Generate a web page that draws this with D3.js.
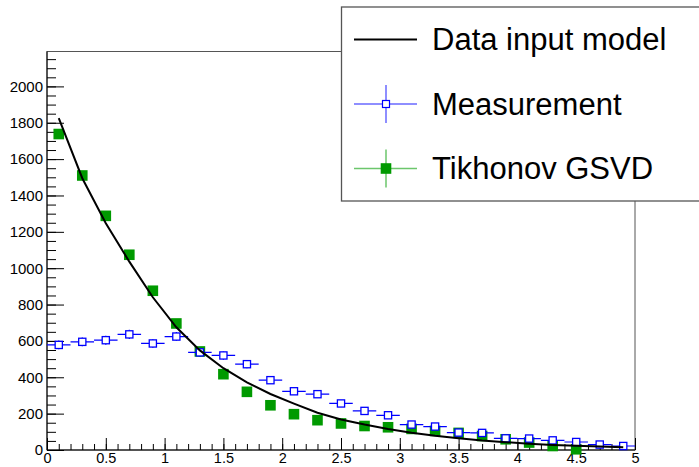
<!DOCTYPE html>
<html>
<head>
<meta charset="utf-8">
<script src="https://cdn.jsdelivr.net/npm/d3@7"></script>
<style>
  body { margin: 0; background: #fff; }
  svg { display: block; font-family: "Liberation Sans", Arial, sans-serif; }
</style>
</head>
<body>
<div class="unfoldChart"></div>
<script>
// bin centres (25 bins of width 0.2 on [0,5])
const binCenters = [0.1, 0.3, 0.5, 0.7, 0.9, 1.1, 1.3, 1.5, 1.7, 1.9, 2.1, 2.3, 2.5,
  2.7, 2.9, 3.1, 3.3, 3.5, 3.7, 3.9, 4.1, 4.3, 4.5, 4.7, 4.9]
const binHalfWidth = 0.1

const modelValues = [1826, 1495, 1247, 1036, 840, 675, 548, 450, 372, 308, 255, 205, 168,
  140, 115, 95, 78, 64, 52, 43, 35, 28, 23, 19, 15]
const measurementValues = [578, 595, 604, 636, 586, 624, 537, 520, 472, 384, 323, 307, 256,
  215, 191, 140, 129, 96, 94, 64, 63, 53, 44, 30, 22]
const measurementErrors = [24, 24, 25, 25, 24, 25, 23, 23, 22, 20, 18, 18, 16,
  15, 14, 12, 11, 10, 10, 8, 8, 7, 7, 5, 5]
const tikhonovValues = [1738, 1510, 1288, 1074, 876, 696, 542, 417, 320, 246, 197, 164, 146,
  132, 125, 116, 105, 94, 77, 59, 41, 22, 4, -12, -25]

const xMajorTicks = [0, 0.5, 1, 1.5, 2, 2.5, 3, 3.5, 4, 4.5, 5]
const yMajorTicks = [0, 200, 400, 600, 800, 1000, 1200, 1400, 1600, 1800, 2000]
const legendLabels = ["Data input model", "Measurement", "Tikhonov GSVD"]

function drawUnfoldChart() {
  const width = 699
  const height = 467
  const left = 47, right = 635, top = 51.5, bottom = 450

  const x = d3.scaleLinear().domain([0, 5]).range([left, right])
  const y = d3.scaleLinear().domain([0, 2192]).range([bottom, top])

  const blue = "#0000ff"
  const green = "#009a00"

  const svg = d3.select(".unfoldChart").append("svg")
    .attr("width", width)
    .attr("height", height)

  // frame
  svg.append("rect")
    .attr("x", left).attr("y", top)
    .attr("width", right - left).attr("height", bottom - top)
    .attr("fill", "none")
    .attr("stroke", "#555")
    .attr("stroke-width", 1)

  // minor ticks
  const yMinor = d3.range(0, 2192, 50)
  svg.append("g")
    .attr("transform", "translate(" + left + ",0)")
    .call(d3.axisLeft(y).tickValues(yMinor).tickSize(-9).tickFormat(""))
    .call(g => g.select(".domain").remove())

  const xMinor = d3.range(0, 51).map(i => i / 10)
  svg.append("g")
    .attr("transform", "translate(0," + bottom + ")")
    .call(d3.axisBottom(x).tickValues(xMinor).tickSize(-6).tickFormat(""))
    .call(g => g.select(".domain").remove())

  // major ticks + labels
  const yAxis = svg.append("g")
    .attr("transform", "translate(" + left + ",0)")
    .call(d3.axisLeft(y).tickValues(yMajorTicks).tickSize(-17).tickPadding(4).tickFormat(d3.format("d")))
  yAxis.select(".domain").attr("d", "M0," + top + "V" + bottom).attr("stroke", "#000")
  yAxis.selectAll("text").style("font-size", "15px").attr("fill", "#000")

  const xAxis = svg.append("g")
    .attr("transform", "translate(0," + bottom + ")")
    .call(d3.axisBottom(x).tickValues(xMajorTicks).tickSize(-12).tickPadding(3).tickFormat(d3.format("~g")))
  xAxis.select(".domain").attr("d", "M" + left + ",0H" + right).attr("stroke", "#000")
  xAxis.selectAll("text").style("font-size", "14.5px").attr("fill", "#000")

  // Tikhonov GSVD (filled squares), points below range are not drawn
  const tikhonov = binCenters.map((c, i) => ({ x: c, v: tikhonovValues[i] }))
    .filter(d => d.v >= 0)
  svg.append("g").selectAll("rect")
    .data(tikhonov)
    .enter()
    .append("rect")
    .attr("x", d => x(d.x) - 5.3)
    .attr("y", d => y(d.v) - 5.3)
    .attr("width", 10.6)
    .attr("height", 10.6)
    .attr("fill", green)

  // Measurement with error bars
  const meas = binCenters.map((c, i) => ({ x: c, v: measurementValues[i], e: measurementErrors[i] }))
  const mg = svg.append("g").selectAll("g")
    .data(meas)
    .enter()
    .append("g")

  mg.append("path")
    .attr("d", d => {
      const cx = x(d.x), cy = y(d.v), s = 3.6
      let p = "M" + x(d.x - binHalfWidth) + "," + cy + "H" + (cx - s)
        + "M" + (cx + s) + "," + cy + "H" + x(d.x + binHalfWidth)
      if (y(d.v - d.e) > cy + s) {
        p += "M" + cx + "," + y(d.v + d.e) + "V" + (cy - s)
          + "M" + cx + "," + (cy + s) + "V" + y(d.v - d.e)
      }
      return p
    })
    .attr("stroke", blue)
    .attr("stroke-width", 1.2)
    .attr("fill", "none")

  mg.append("rect")
    .attr("x", d => x(d.x) - 3.6)
    .attr("y", d => y(d.v) - 3.6)
    .attr("width", 7.2)
    .attr("height", 7.2)
    .attr("fill", "#fff")
    .attr("stroke", blue)
    .attr("stroke-width", 1.3)

  // Data input model
  const line = d3.line()
    .x(d => x(d.x))
    .y(d => y(d.v))
  svg.append("path")
    .datum(binCenters.map((c, i) => ({ x: c, v: modelValues[i] })))
    .attr("d", line)
    .attr("fill", "none")
    .attr("stroke", "#000")
    .attr("stroke-width", 2)

  // Legend
  const legend = svg.append("g")
  legend.append("rect")
    .attr("x", 341.5).attr("y", 7)
    .attr("width", 420).attr("height", 194)
    .attr("fill", "#fff")
    .attr("stroke", "#555")
    .attr("stroke-width", 1.3)

  const rowY = [39.5, 104, 168.5]
  legendLabels.forEach((label, i) => {
    const cy = rowY[i]
    if (i === 0) {
      legend.append("line")
        .attr("x1", 354).attr("x2", 417).attr("y1", cy).attr("y2", cy)
        .attr("stroke", "#000").attr("stroke-width", 2)
    } else {
      const c = i === 1 ? "#6a6aff" : "#6cc66c"
      legend.append("path")
        .attr("d", "M354," + cy + "H417M386," + (cy - 19) + "V" + (cy + 19))
        .attr("stroke", c).attr("stroke-width", 1.5)
      if (i === 1) {
        legend.append("rect")
          .attr("x", 382.5).attr("y", cy - 3.5).attr("width", 7).attr("height", 7)
          .attr("fill", "#fff").attr("stroke", blue).attr("stroke-width", 1.2)
      } else {
        legend.append("rect")
          .attr("x", 380.7).attr("y", cy - 5.3).attr("width", 10.6).attr("height", 10.6)
          .attr("fill", green)
      }
    }
    legend.append("text")
      .attr("x", 432)
      .attr("y", cy + 10.8)
      .style("font-size", "31px")
      .attr("fill", "#000")
      .text(label)
  })
}

drawUnfoldChart()
</script>
</body>
</html>
